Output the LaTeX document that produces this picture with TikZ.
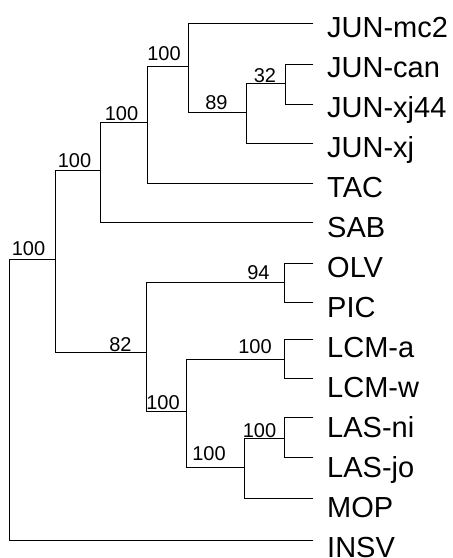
\documentclass[tikz,border=0pt]{standalone}
\usepackage{fontspec}
\setmainfont{Liberation Sans}
\begin{document}
\begin{tikzpicture}[x=1pt,y=-1pt,
  br/.style={line width=0.9pt, line cap=rect},
  leaf/.style={anchor=base west, inner sep=0pt, font=\fontsize{29}{29}\selectfont},
  bs/.style={anchor=base, inner sep=0pt, font=\fontsize{20}{20}\selectfont}]
\useasboundingbox (0,0) rectangle (453,558);
% internal nodes
\coordinate (R) at (9,400);
\coordinate (A) at (55,259);
\coordinate (B) at (100,170);
\coordinate (C) at (147,122);
\coordinate (D) at (188,66);
\coordinate (E) at (246,112);
\coordinate (F) at (285,83);
\coordinate (G) at (146,352);
\coordinate (H) at (284,282);
\coordinate (I) at (186,411);
\coordinate (J) at (284,359);
\coordinate (K) at (244,467);
\coordinate (L) at (284,438);
% leaf ends
\coordinate (tmc2) at (313,23);
\coordinate (tcan) at (313,64);
\coordinate (txjf) at (313,104);
\coordinate (txj) at (313,143);
\coordinate (tTAC) at (313,183);
\coordinate (tSAB) at (313,222);
\coordinate (tOLV) at (313,263);
\coordinate (tPIC) at (313,302);
\coordinate (tLCMa) at (313,339);
\coordinate (tLCMw) at (313,378);
\coordinate (tLASni) at (313,417);
\coordinate (tLASjo) at (313,457);
\coordinate (tMOP) at (313,498);
\coordinate (tINSV) at (313,540);
% leaf labels
\node[leaf] (nmc2) at (327,37) {JUN-mc2};
\node[leaf] (ncan) at (327,77) {JUN-can};
\node[leaf] (nxjf) at (327,117) {JUN-xj44};
\node[leaf] (nxj) at (327,157) {JUN-xj};
\node[leaf] (nTAC) at (327,197) {TAC};
\node[leaf] (nSAB) at (327,237) {SAB};
\node[leaf] (nOLV) at (327,277) {OLV};
\node[leaf] (nPIC) at (327,317) {PIC};
\node[leaf] (nLCMa) at (327,357) {LCM-a};
\node[leaf] (nLCMw) at (327,397) {LCM-w};
\node[leaf] (nLASni) at (327,437) {LAS-ni};
\node[leaf] (nLASjo) at (327,477) {LAS-jo};
\node[leaf] (nMOP) at (327,517) {MOP};
\node[leaf] (nINSV) at (327,557) {INSV};
% branches
\draw[br] (R) |- (A);
\draw[br] (R) |- (tINSV);
\draw[br] (A) |- (B);
\draw[br] (A) |- (G);
\draw[br] (B) |- (C);
\draw[br] (B) |- (tSAB);
\draw[br] (C) |- (D);
\draw[br] (C) |- (tTAC);
\draw[br] (D) |- (tmc2);
\draw[br] (D) |- (E);
\draw[br] (E) |- (F);
\draw[br] (E) |- (txj);
\draw[br] (F) |- (tcan);
\draw[br] (F) |- (txjf);
\draw[br] (G) |- (H);
\draw[br] (G) |- (I);
\draw[br] (H) |- (tOLV);
\draw[br] (H) |- (tPIC);
\draw[br] (I) |- (J);
\draw[br] (I) |- (K);
\draw[br] (J) |- (tLCMa);
\draw[br] (J) |- (tLCMw);
\draw[br] (K) |- (L);
\draw[br] (K) |- (tMOP);
\draw[br] (L) |- (tLASni);
\draw[br] (L) |- (tLASjo);
% bootstrap values
\node[bs] (bA) at (28.5,255) {100};
\node[bs] (bB) at (74.5,167) {100};
\node[bs] (bC) at (121.5,120) {100};
\node[bs] (bD) at (164,60) {100};
\node[bs] (bE) at (216.5,109) {89};
\node[bs] (bF) at (265,82) {32};
\node[bs] (bG) at (120.5,351) {82};
\node[bs] (bH) at (258.5,279) {94};
\node[bs] (bI) at (163,409) {100};
\node[bs] (bJ) at (255,353) {100};
\node[bs] (bK) at (209,460) {100};
\node[bs] (bL) at (259.5,437) {100};
\end{tikzpicture}
\end{document}
